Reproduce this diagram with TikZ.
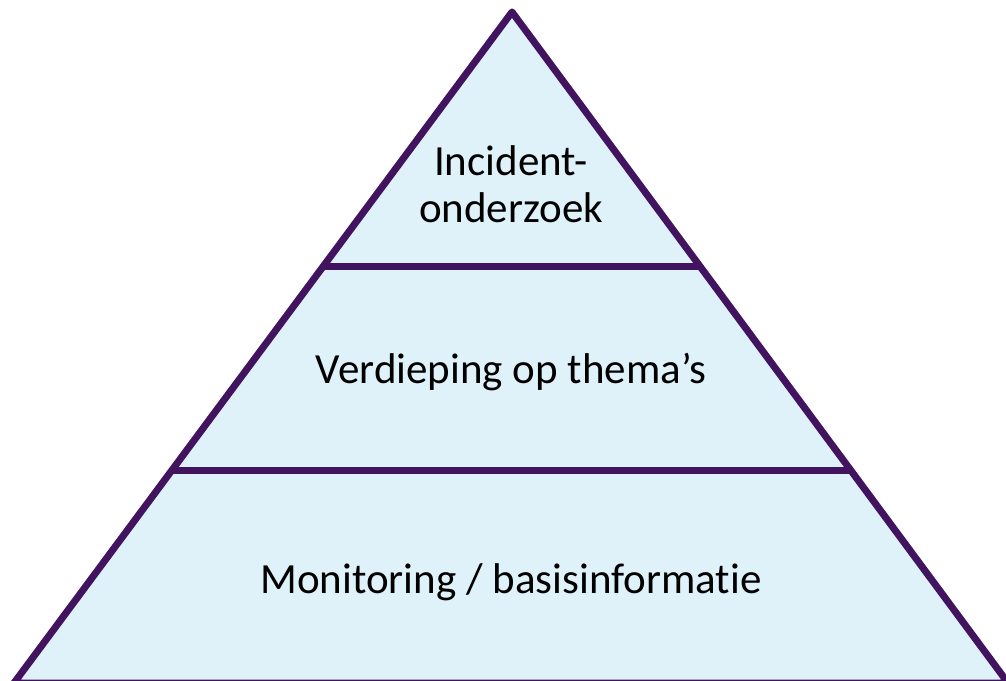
\documentclass[tikz,border=0pt]{standalone}
\usepackage{fontspec}
\setmainfont[Ligatures=NoCommon]{Carlito}
\usetikzlibrary{calc}
\definecolor{rovio}{HTML}{42145F}
\definecolor{rofill}{HTML}{DFF2FA}
\tikzset{
  edge/.style={draw=rovio, line width=7pt, line join=round},
  lbl/.style={anchor=base, inner sep=0pt, font=\fontsize{43}{47}\selectfont, text=black}
}
\begin{document}
\begin{tikzpicture}[x=1pt,y=1pt]
\useasboundingbox (0,0) rectangle (1006,680);
\clip (0,0) rectangle (1006,680);
\coordinate (A) at (512,668);
\coordinate (L) at (14,-3);
\coordinate (R) at (1008,-3);
\coordinate (L1) at ($(L)!0.6203!(A)$);
\coordinate (R1) at ($(R)!0.6203!(A)$);
\coordinate (L2) at ($(L)!0.3174!(A)$);
\coordinate (R2) at ($(R)!0.3174!(A)$);
\fill[rofill] (A) -- (L) -- (R) -- cycle;
\draw[edge] (L1) -- (R1);
\draw[edge] (L2) -- (R2);
\draw[edge] (A) -- (L) -- (R) -- cycle;
\node[lbl] (t1) at (511,504) {Incident-};
\node[lbl] (t2) at (511,457) {onderzoek};
\node[lbl] (t3) at (511,296) {Verdieping op thema’s};
\node[lbl] (t4) at (511,87) {Monitoring / basisinformatie};
\end{tikzpicture}
\end{document}
